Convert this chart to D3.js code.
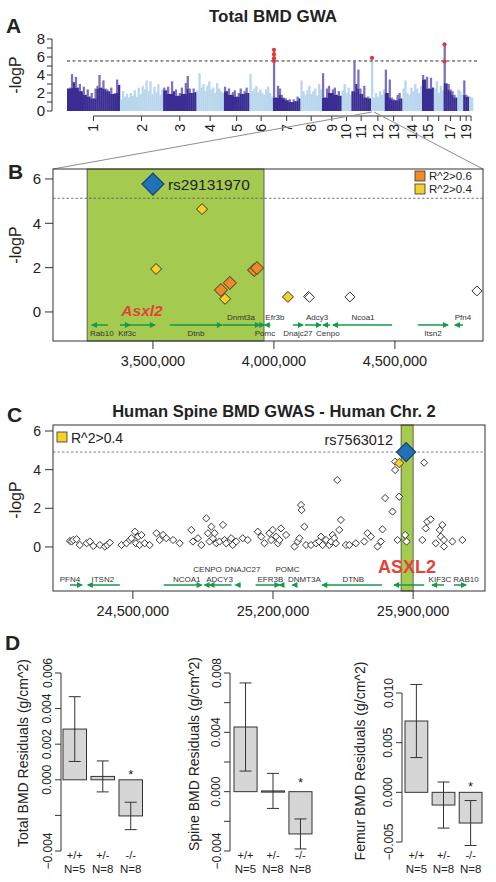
<!DOCTYPE html>
<html><head><meta charset="utf-8">
<script src="https://cdn.jsdelivr.net/npm/d3@7/dist/d3.min.js"></script>
<style>
html,body{margin:0;padding:0;background:#fff;}
svg{display:block;}
</style></head><body>
<svg id="fig" width="496" height="882"></svg>
<script>
// ================= DATA =================
// Panel A: mouse genome-wide association, -logP per marker, grouped by chromosome
const chromNames = ["1","2","3","4","5","6","7","8","9","10","11","12","13","14","15","16","17","18","19","X"];
const chromTickLabels = ["1","2","3","4","5","6","7","8","9","10","11","12","13","14","15","","17","","19",""];
const chromLogP = [
  [2.5,2.6,4.1,3.2,3.8,2.6,3.0,2.2,2.7,1.8,2.4,1.6,2.0,1.4,2.5,2.8,4.0,2.6,3.4,2.5,2.4,2.2,2.6,1.9,2.0,3.5,2.9],
  [1.3,2.2,1.6,1.9,1.5,2.0,1.7,2.3,1.6,2.6,1.9,2.8,2.4,3.4,2.2,3.3,1.9,2.7,2.1,3.0,1.8,2.4],
  [2.6,2.3,2.7,1.9,3.3,2.2,2.4,1.7,2.0,2.6,1.9,3.1,3.9,2.5,2.0,2.5,2.1],
  [2.3,4.2,2.6,3.0,2.2,2.8,3.3,2.4,2.6,2.0,3.1,2.5,2.2,2.0],
  [2.7,2.2,2.5,1.8,2.1,2.3,1.6,2.0,2.5,1.9,2.2,2.6,2.0],
  [4.1,2.2,2.5,2.8,2.1,2.4,2.0,1.8,2.4,2.7,2.0,1.6],
  [6.8,1.5,2.8,2.5,1.8,1.5,1.4,1.2,1.3,1.0,1.3,1.1,1.6,1.4],
  [3.4,2.2,1.8,2.3,2.8,1.9,2.2,2.5,1.7,3.0,2.4],
  [4.2,1.5,2.5,2.8,2.0,2.4,2.6,1.8,2.2,1.7],
  [2.3,3.0,2.0,2.6,1.8],
  [2.2,5.5,3.0,4.6,2.5,1.9,2.8,1.5,1.6,1.4],
  [5.9,1.5,2.0,1.6,2.2,1.8,2.4],
  [4.6,2.0,3.5,1.5,1.3,1.2,1.8,2.0,1.4],
  [2.5,3.4,2.0,1.8,2.6,2.2,3.0,2.5,2.0,2.8],
  [4.0,3.5,3.8,2.5,3.7,2.6],
  [2.5,3.3,2.0,2.8,2.3],
  [7.4,3.1,3.0,2.4,2.2,1.8,1.5],
  [2.4,2.2,1.8],
  [3.4,1.8,1.6],
  [1.6,1.5]
];
const hitChrom = ["7","12","17"];
const hitLogP = [[5.56,5.86,6.3,6.8],[5.9],[5.5,7.4]];
const gwaThreshold = 5.56;
const zoomChrom = "12";

// Panel B: mouse chr12 locus (positions in Mb)
const mouseSnpPos  = [3.500,3.703,3.513,3.798,4.058,3.781,3.818,3.918,3.930,4.143,4.147,4.314,4.839];
const mouseSnpLogP = [5.77,4.64,1.94,0.59,0.68,0.99,1.31,1.89,1.98,0.70,0.66,0.68,0.95];
const mouseSnpLD   = ["lead","r4","r4","r4","r4","r6","r6","r6","r6","none","none","none","none"];
const mouseLeadSnp = "rs29131970";
const mouseThreshold = 5.13;
const mouseHighlight = [3.228, 3.959];
const mouseGeneNames  = ["Rab10","Kif3c","Asxl2","Dtnb","Dnmt3a","Efr3b","Pomc","Dnajc27","Adcy3","Cenpo","Ncoa1","Itsn2","Pfn4"];
const mouseGeneStart  = [3.248,3.364,3.405,3.570,3.789,3.940,3.962,4.079,4.128,4.203,4.244,4.595,4.748];
const mouseGeneEnd    = [3.314,3.405,3.508,3.785,3.942,3.960,3.985,4.120,4.194,4.232,4.488,4.719,4.781];
const mouseGeneStrand = [-1,1,1,1,1,1,-1,1,1,-1,-1,1,-1];
const mouseGeneLabelPos = [3.289,3.393,3.455,3.678,3.864,4.004,3.963,4.099,4.178,4.223,4.368,4.657,4.781];
const mouseGeneLabelRow = ["below","below","focus","below","above","above","below","below","above","below","above","below","above"];
const mouseXTicks = [3.5,4.0,4.5];
const mouseYTicks = [0,2,4,6];
const mouseLegend = ["R^2>0.6","R^2>0.4"];

// Panel C: human chr2 spine BMD GWAS (positions in Mb)
const humanSnpPos = [
  24.186,24.194,24.202,24.219,24.235,24.269,24.285,24.302,24.335,24.360,24.372,24.385,
  24.443,24.468,24.485,24.493,24.510,24.515,24.526,24.534,24.543,24.559,24.584,24.618,24.634,24.651,24.667,24.701,24.734,
  24.792,24.800,24.825,24.842,24.867,24.875,24.883,24.892,24.900,24.908,24.917,24.933,24.950,24.958,24.966,24.991,24.999,25.016,25.049,25.074,
  25.124,25.141,25.157,25.182,25.191,25.199,25.216,25.224,25.232,25.240,25.265,25.307,25.323,25.332,25.340,25.343,25.357,25.365,25.390,25.415,25.431,25.440,25.448,25.465,25.481,25.490,25.498,25.506,25.514,25.531,25.539,
  25.564,25.581,25.614,25.656,25.672,25.689,25.722,25.739,25.747,25.760,25.797,25.822,25.830,25.860,25.867,
  25.946,25.963,25.971,25.988,26.013,26.033,26.038,26.046,26.054,26.054,26.096,26.146,
  25.810,25.810,25.955,25.521];
const humanSnpLogP = [
  0.31,0.28,0.36,0.40,0.10,0.19,0.28,0.05,0.10,0.02,0.10,0.22,
  0.10,0.19,0.36,0.45,0.79,0.19,0.53,0.10,0.62,0.19,0.10,0.71,0.36,0.62,0.45,0.36,0.19,
  0.88,0.28,0.45,0.10,1.48,0.71,0.28,1.05,0.45,0.71,0.19,0.28,1.14,0.36,0.19,0.45,0.10,0.28,0.45,0.36,
  0.79,0.53,0.19,0.71,0.36,0.88,0.53,0.19,0.36,0.96,0.62,0.02,0.28,0.45,2.17,1.91,1.05,0.10,0.10,0.19,0.28,0.53,0.10,0.36,0.10,0.28,0.62,0.45,0.19,0.88,1.40,
  0.10,0.10,0.19,0.28,0.71,0.53,0.02,0.28,0.91,2.53,1.83,0.36,2.60,0.62,0.28,
  0.36,0.96,1.31,1.43,0.19,0.88,0.53,1.14,0.02,0.36,0.28,0.36,
  4.41,3.98,4.36,3.46];
const humanLDPos = [25.830], humanLDLogP = [4.34];
const humanLeadPos = 25.865, humanLeadLogP = 4.91, humanLeadSnp = "rs7563012";
const humanThreshold = 4.91;
const humanHighlight = [25.840, 25.900];
const humanGeneNames  = ["PFN4","ITSN2","NCOA1","CENPO","ADCY3","DNAJC27","EFR3B","POMC","DNMT3A","DTNB","ASXL2","KIF3C","RAB10"];
const humanGeneStart  = [24.186,24.275,24.654,24.858,24.883,25.013,25.113,25.232,25.297,25.446,25.805,25.995,26.104];
const humanGeneEnd    = [24.246,24.435,24.843,24.883,24.993,25.038,25.232,25.252,25.317,25.745,25.955,26.054,26.164];
const humanGeneStrand = [1,-1,1,-1,-1,-1,1,-1,-1,-1,-1,-1,1];
const humanGeneLabelPos = [24.186,24.350,24.769,24.873,24.933,25.048,25.187,25.272,25.357,25.601,25.870,26.034,26.164];
const humanGeneLabelRow = ["low","low","low","up","low","up","low","up","low","low","focus","low","low"];
const humanXTicks = [24.5,25.2,25.9];
const humanYTicks = [0,2,4,6];

// Panel D: knockout bone mineral density residuals
const genotypes = ["+/+","+/-","-/-"];
const groupN = ["N=5","N=8","N=8"];
const significant = [false,false,true];
const totalMean = [0.00285,0.00019,-0.00203], totalSE = [0.00182,0.00087,0.00077];
const spineMean = [0.00436,0.00005,-0.00285], spineSE = [0.00297,0.00118,0.00101];
const femurMean = [0.00718,-0.00128,-0.00309], femurSE = [0.00368,0.00232,0.00226];
const totalTicks = [-0.004,-0.002,0,0.002,0.004,0.006], totalTickLabels = [-0.004,0,0.002,0.004,0.006];
const spineTicks = [-0.004,-0.002,0,0.002,0.004,0.006,0.008], spineTickLabels = [-0.004,0,0.004,0.008];
const femurTicks = [-0.005,0,0.005,0.010], femurTickLabels = [-0.005,0,0.005,0.010];

// ================= DRAWING =================
const FONT = '"Liberation Sans", Arial, Helvetica, sans-serif';
const svg = d3.select("#fig");
function T(p, x, y, s, size, o = {}) {
  const t = p.append("text").attr("x", x).attr("y", y).text(s)
    .attr("font-size", size).attr("font-family", FONT)
    .attr("text-anchor", o.anchor || "start").attr("fill", o.fill || "#222");
  if (o.weight) t.attr("font-weight", o.weight);
  if (o.style) t.attr("font-style", o.style);
  if (o.rotate) t.attr("transform", `rotate(${o.rotate},${x},${y})`);
  return t;
}
function L(p, x1, y1, x2, y2, c = "#333", w = 1, dash = null) {
  const l = p.append("line").attr("x1", x1).attr("y1", y1).attr("x2", x2).attr("y2", y2)
    .attr("stroke", c).attr("stroke-width", w);
  if (dash) l.attr("stroke-dasharray", dash);
  return l;
}
function diamond(p, x, y, r, fill, stroke = "#333", sw = 1) {
  p.append("path").attr("d", `M${x},${y - r}L${x + r},${y}L${x},${y + r}L${x - r},${y}Z`)
    .attr("fill", fill).attr("stroke", stroke).attr("stroke-width", sw);
}
function geneArrow(p, xa, xb, y, strand, color) {
  L(p, xa, y, xb, y, color, 1.5);
  const tip = strand > 0 ? xb : xa, dir = strand > 0 ? 1 : -1;
  p.append("path").attr("d", `M${tip + dir * 1},${y}L${tip - dir * 5},${y - 3}L${tip - dir * 5},${y + 3}Z`).attr("fill", color);
}
const GREEN_ARROW = "#16994a", HILITE = "#a5ca50";

// ---------- Panel A ----------
const gA = svg.append("g");
T(gA, 273, 22, "Total BMD GWA", 17, { anchor: "middle", weight: "bold" });
T(gA, 6, 33, "A", 21, { weight: "bold" });
const starts = [0];
chromLogP.forEach((a, i) => starts.push(starts[i] + a.length));
const nSnp = starts[starts.length - 1];
const xA = d3.scaleLinear().domain([0, nSnp]).range([67, 473]);
const yA = d3.scaleLinear().domain([0, 8]).range([111, 39]);
const DARK = "#392d94", SPIKE = "#7a70bd", LIGHT = "#b8d6ec";
chromLogP.forEach((vals, ci) => {
  vals.forEach((v, j) => {
    const i = starts[ci] + j, x0 = xA(i), w = xA(i + 1) - xA(i) + 0.3;
    if (ci % 2 === 0) {
      const fl = Math.min(v, j > 0 ? vals[j - 1] : v, j < vals.length - 1 ? vals[j + 1] : v);
      gA.append("rect").attr("x", x0).attr("y", yA(v)).attr("width", w).attr("height", yA(fl) - yA(v)).attr("fill", SPIKE);
      gA.append("rect").attr("x", x0).attr("y", yA(fl)).attr("width", w).attr("height", yA(0) - yA(fl)).attr("fill", DARK);
    } else {
      gA.append("rect").attr("x", x0).attr("y", yA(v)).attr("width", w).attr("height", yA(0) - yA(v)).attr("fill", LIGHT);
    }
  });
});
L(gA, 67, yA(gwaThreshold), 478, yA(gwaThreshold), "#333", 1, "3,2.5");
hitChrom.forEach((c, k) => {
  const ci = chromNames.indexOf(c), x = xA(starts[ci] + 0.5);
  hitLogP[k].forEach(v => gA.append("circle").attr("cx", x).attr("cy", yA(v)).attr("r", 2.1).attr("fill", "#e4382e"));
});
// y axis
L(gA, 52, yA(0), 52, yA(8));
d3.range(0, 9).forEach(d => {
  L(gA, 47, yA(d), 52, yA(d));
  if (d % 2 === 0) T(gA, 45, yA(d) + 5.3, d, 15, { anchor: "end" });
});
T(gA, 21, 75, "-logP", 16, { anchor: "middle", rotate: -90 });
// chromosome axis
const mids = chromNames.map((c, i) => xA((starts[i] + starts[i + 1]) / 2));
L(gA, mids[0], 116, mids[mids.length - 1], 116);
mids.forEach((x, i) => {
  L(gA, x, 116, x, 121);
  if (chromTickLabels[i]) T(gA, x + 5, 124, chromTickLabels[i], 14, { anchor: "end", rotate: -90 });
});

// ---------- Panel B ----------
const gB = svg.append("g");
const bx0 = 53, bx1 = 483, by0 = 169, by1 = 341;
const xB = d3.scaleLinear().domain([3.087, 4.864]).range([bx0, bx1]);
const yB = d3.scaleLinear().domain([-1.31, 6.45]).range([by1, by0]);
// connectors from panel A
const zi = chromNames.indexOf(zoomChrom), zx = xA(starts[zi] + 0.5);
L(gA, zx, yA(0) + 1, bx0, by0, "#8e8e8e", 1);
L(gA, zx + 2, yA(0) + 1, bx1, by0, "#8e8e8e", 1);
T(gB, 8, 179, "B", 21, { weight: "bold" });
gB.append("rect").attr("x", xB(mouseHighlight[0])).attr("y", by0).attr("width", xB(mouseHighlight[1]) - xB(mouseHighlight[0]))
  .attr("height", by1 - by0).attr("fill", HILITE).attr("stroke", "#444").attr("stroke-width", 0.8);
L(gB, bx0, yB(mouseThreshold), bx1, yB(mouseThreshold), "#555", 0.8, "2.5,2");
// genes
const gArrowY = yB(0) + 13;
mouseGeneNames.forEach((g, i) => {
  geneArrow(gB, xB(mouseGeneStart[i]), xB(mouseGeneEnd[i]), gArrowY, mouseGeneStrand[i], GREEN_ARROW);
  const lx = xB(mouseGeneLabelPos[i]), row = mouseGeneLabelRow[i];
  if (row === "focus") T(gB, lx, gArrowY - 9, g, 15.5, { anchor: "middle", weight: "bold", style: "italic", fill: "#e2433b" });
  else T(gB, lx, row === "above" ? gArrowY - 5 : gArrowY + 11, g, 8, { anchor: "middle", fill: "#333" });
});
// points
const ldFill = { r6: "#f08a26", r4: "#f6d12a", none: "#ffffff", lead: "#1d72b8" };
const ldSize = { r6: 6.5, r4: 5.5, none: 5, lead: 11 };
const order = d3.range(mouseSnpPos.length).sort((a, b) => (mouseSnpLD[a] === "lead") - (mouseSnpLD[b] === "lead"));
order.forEach(i => {
  const ld = mouseSnpLD[i];
  diamond(gB, xB(mouseSnpPos[i]), yB(mouseSnpLogP[i]), ldSize[ld], ldFill[ld], ld === "lead" ? "#1b3e66" : "#333", ld === "lead" ? 1.2 : 1);
  if (ld === "lead") T(gB, xB(mouseSnpPos[i]) + 15, yB(mouseSnpLogP[i]) + 6, mouseLeadSnp, 15.5);
});
// legend
["r6", "r4"].forEach((k, i) => {
  gB.append("rect").attr("x", 415).attr("y", 171 + i * 13).attr("width", 10).attr("height", 10).attr("fill", ldFill[k]).attr("stroke", "#333").attr("stroke-width", 0.8);
  T(gB, 429, 180 + i * 13, mouseLegend[i], 11.5);
});
gB.append("rect").attr("x", bx0).attr("y", by0).attr("width", bx1 - bx0).attr("height", by1 - by0)
  .attr("fill", "none").attr("stroke", "#333").attr("stroke-width", 1);
mouseYTicks.forEach(d => {
  L(gB, bx0 - 8, yB(d), bx0, yB(d));
  T(gB, 41, yB(d) + 5.3, d, 15, { anchor: "end" });
});
mouseXTicks.forEach(d => {
  L(gB, xB(d), by1, xB(d), by1 + 8);
  T(gB, xB(d), 366, d3.format(",")(Math.round(d * 1e6)), 14.5, { anchor: "middle" });
});
T(gB, 21, 245, "-logP", 16, { anchor: "middle", rotate: -90 });

// ---------- Panel C ----------
const gC = svg.append("g");
const cx0 = 53, cx1 = 485, cy0 = 425, cy1 = 591;
const xC = d3.scaleLinear().domain([24.101, 26.259]).range([cx0, cx1]);
const yC = d3.scaleLinear().domain([-2.28, 6.31]).range([cy1, cy0]);
T(gC, 7, 422, "C", 21, { weight: "bold" });
T(gC, 274, 417, "Human Spine BMD GWAS - Human Chr. 2", 16.5, { anchor: "middle", weight: "bold" });
gC.append("rect").attr("x", xC(humanHighlight[0])).attr("y", cy0).attr("width", xC(humanHighlight[1]) - xC(humanHighlight[0]))
  .attr("height", cy1 - cy0).attr("fill", HILITE).attr("stroke", "#444").attr("stroke-width", 0.8);
L(gC, cx0, yC(humanThreshold), cx1, yC(humanThreshold), "#666", 0.8, "2.5,2");
const cArrowY = 585;
humanGeneNames.forEach((g, i) => {
  geneArrow(gC, xC(humanGeneStart[i]), xC(humanGeneEnd[i]), cArrowY, humanGeneStrand[i], GREEN_ARROW);
  const lx = xC(humanGeneLabelPos[i]), row = humanGeneLabelRow[i];
  if (row === "focus") T(gC, lx, 573, g, 18, { anchor: "middle", weight: "bold", fill: "#e2433b" });
  else T(gC, lx, row === "up" ? 571.5 : 581.5, g, 8, { anchor: "middle", fill: "#333" });
});
humanSnpPos.forEach((p, i) => diamond(gC, xC(p), yC(humanSnpLogP[i]), 3.6, "#fff", "#222", 0.9));
humanLDPos.forEach((p, i) => diamond(gC, xC(p), yC(humanLDLogP[i]), 4.6, "#f6d12a", "#333", 0.9));
diamond(gC, xC(humanLeadPos), yC(humanLeadLogP), 9.5, "#1d72b8", "#1b3e66", 1.2);
T(gC, 393, 445, humanLeadSnp, 14.5, { anchor: "end" });
gC.append("rect").attr("x", 57).attr("y", 432).attr("width", 10).attr("height", 10).attr("fill", "#f6d12a").attr("stroke", "#333").attr("stroke-width", 0.8);
T(gC, 71, 443, "R^2>0.4", 14);
gC.append("rect").attr("x", cx0).attr("y", cy0).attr("width", cx1 - cx0).attr("height", cy1 - cy0)
  .attr("fill", "none").attr("stroke", "#333").attr("stroke-width", 1);
humanYTicks.forEach(d => {
  L(gC, cx0 - 8, yC(d), cx0, yC(d));
  T(gC, 41, yC(d) + 5, d, 14, { anchor: "end" });
});
humanXTicks.forEach(d => {
  L(gC, xC(d), cy1, xC(d), cy1 + 8);
  T(gC, xC(d), 616, d3.format(",")(Math.round(d * 1e6)), 14.5, { anchor: "middle" });
});
T(gC, 21, 500, "-logP", 16, { anchor: "middle", rotate: -90 });

// ---------- Panel D ----------
const gD = svg.append("g");
T(gD, 5, 650, "D", 21, { weight: "bold" });
const dPanels = [
  { mean: totalMean, se: totalSE, ticks: totalTicks, labels: totalTickLabels, dom: [-0.004, 0.006], yr: [851, 673],
    ax: 61, br: [63, 142.5], title: "Total BMD Residuals (g/cm^2)", tx: 28, ty: 753, star: 8.5 },
  { mean: spineMean, se: spineSE, ticks: spineTicks, labels: spineTickLabels, dom: [-0.004, 0.008], yr: [851, 673],
    ax: 230, br: [234, 312], title: "Spine BMD Residuals (g/cm^2)", tx: 199, ty: 754, star: 12.5 },
  { mean: femurMean, se: femurSE, ticks: femurTicks, labels: femurTickLabels, dom: [-0.005, 0.010], yr: [842, 693],
    ax: 402, br: [405, 482], title: "Femur BMD Residuals (g/cm^2)", tx: 365, ty: 761, star: 9 }
];
const f3 = d3.format(".3f");
dPanels.forEach(P => {
  const y = d3.scaleLinear().domain(P.dom).range(P.yr);
  const x = d3.scaleBand().domain(genotypes).range(P.br).paddingInner(0.16).paddingOuter(0);
  L(gD, P.ax, y(d3.min(P.ticks)), P.ax, y(d3.max(P.ticks)));
  P.ticks.forEach(t => L(gD, P.ax - 6, y(t), P.ax, y(t)));
  P.labels.forEach(t => T(gD, P.ax - 9.5, y(t), f3(t), 12, { anchor: "middle", rotate: -90 }));
  T(gD, P.tx, P.ty, P.title, 14, { anchor: "middle", rotate: -90 });
  genotypes.forEach((g, i) => {
    const m = P.mean[i], s = P.se[i], bx = x(g), bw = x.bandwidth(), c = bx + bw / 2;
    gD.append("rect").attr("x", bx).attr("y", Math.min(y(m), y(0))).attr("width", bw)
      .attr("height", Math.max(1.2, Math.abs(y(m) - y(0)))).attr("fill", "#d6d6d6").attr("stroke", "#333").attr("stroke-width", 1);
    L(gD, c, y(m + s), c, y(m - s));
    L(gD, c - 6, y(m + s), c + 6, y(m + s));
    L(gD, c - 6, y(m - s), c + 6, y(m - s));
    if (significant[i]) T(gD, c, y(0) - P.star + 7.5, "*", 13, { anchor: "middle" });
    T(gD, c, 859, g, 11, { anchor: "middle" });
    T(gD, c, 872.5, groupN[i], 11.5, { anchor: "middle" });
  });
});
</script>
</body></html>
